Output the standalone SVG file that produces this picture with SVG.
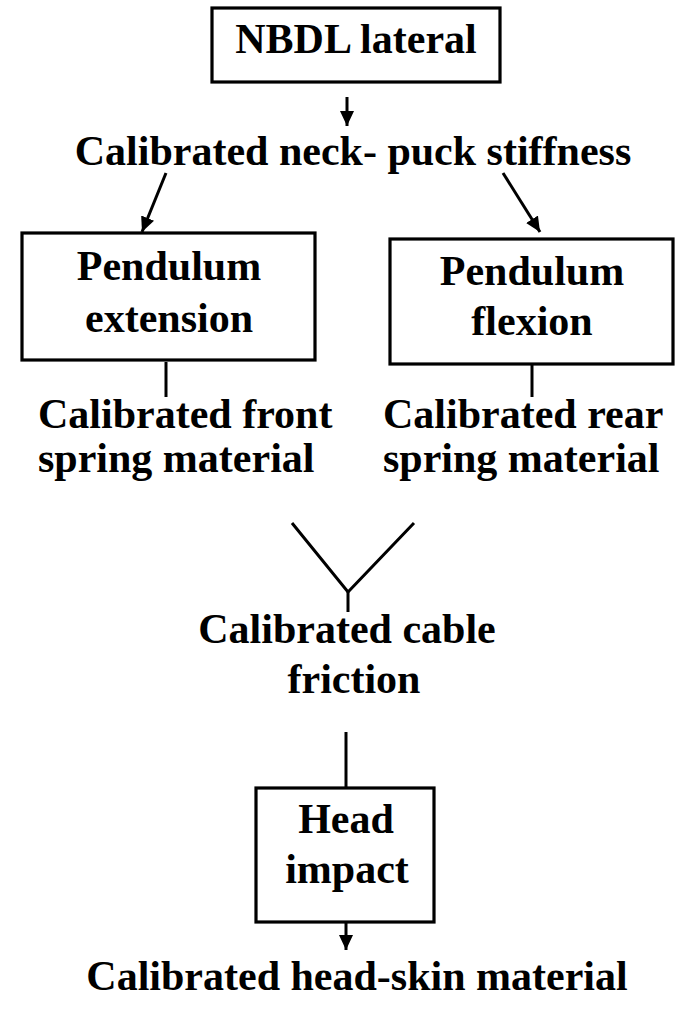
<svg xmlns="http://www.w3.org/2000/svg" width="683" height="1009" viewBox="0 0 683 1009">
  <style>
    .box { fill: #ffffff; stroke: #000000; stroke-width: 3.2; }
    .lbl { font-family: 'Liberation Serif', 'Times New Roman', Times, 'DejaVu Serif', serif; font-weight: 700; font-size: 42px; fill: #000000; }
    .mid { text-anchor: middle; }
    .wire { stroke: #000000; stroke-width: 3; fill: none; }
  </style>
  <defs>
    <!-- solid triangular arrowhead, sized in user units -->
    <marker id="head" markerUnits="userSpaceOnUse" markerWidth="16" markerHeight="14" refX="15" refY="7" orient="auto">
      <path d="M0,0 L15,7 L0,14 Z" fill="#000000"/>
    </marker>
  </defs>
  <rect width="683" height="1009" fill="#ffffff"/>

  <!-- connectors -->
  <g id="connectors">
    <line class="wire" x1="347" y1="97" x2="347" y2="126" marker-end="url(#head)"/>
    <line class="wire" x1="166" y1="173" x2="142" y2="232" marker-end="url(#head)"/>
    <line class="wire" x1="503" y1="173" x2="540" y2="232" marker-end="url(#head)"/>
    <line class="wire" x1="166" y1="362" x2="166" y2="397"/>
    <line class="wire" x1="532" y1="365" x2="532" y2="397"/>
    <polyline class="wire" points="292,523 348,592 414,523"/>
    <line class="wire" x1="348" y1="591" x2="348" y2="612"/>
    <line class="wire" x1="346" y1="732" x2="346" y2="788"/>
    <line class="wire" x1="346" y1="922" x2="346" y2="950" marker-end="url(#head)"/>
  </g>

  <!-- NBDL lateral -->
  <g id="nbdl">
    <rect class="box" x="212" y="8" width="288" height="74"/>
    <text class="lbl mid" x="356" y="53">NBDL lateral</text>
  </g>

  <!-- Calibrated neck-puck stiffness -->
  <g id="neck-puck">
    <text class="lbl mid" x="353" y="165">Calibrated neck- puck stiffness</text>
  </g>

  <!-- Pendulum extension -->
  <g id="pendulum-extension">
    <rect class="box" x="22" y="233" width="293" height="127"/>
    <text class="lbl mid" x="169" y="280">Pendulum</text>
    <text class="lbl mid" x="169" y="332">extension</text>
  </g>

  <!-- Pendulum flexion -->
  <g id="pendulum-flexion">
    <rect class="box" x="390" y="239" width="283" height="125"/>
    <text class="lbl mid" x="532" y="285">Pendulum</text>
    <text class="lbl mid" x="532" y="335">flexion</text>
  </g>

  <!-- Calibrated front spring material -->
  <g id="front-spring">
    <text class="lbl" x="38" y="428">Calibrated front</text>
    <text class="lbl" x="38" y="472">spring material</text>
  </g>

  <!-- Calibrated rear spring material -->
  <g id="rear-spring">
    <text class="lbl" x="383" y="428">Calibrated rear</text>
    <text class="lbl" x="383" y="472">spring material</text>
  </g>

  <!-- Calibrated cable friction -->
  <g id="cable-friction">
    <text class="lbl mid" x="347" y="643">Calibrated cable</text>
    <text class="lbl mid" x="354" y="693">friction</text>
  </g>

  <!-- Head impact -->
  <g id="head-impact">
    <rect class="box" x="256" y="788" width="178" height="134"/>
    <text class="lbl mid" x="346" y="833">Head</text>
    <text class="lbl mid" x="347" y="883">impact</text>
  </g>

  <!-- Calibrated head-skin material -->
  <g id="head-skin">
    <text class="lbl mid" x="357" y="990">Calibrated head-skin material</text>
  </g>
</svg>
